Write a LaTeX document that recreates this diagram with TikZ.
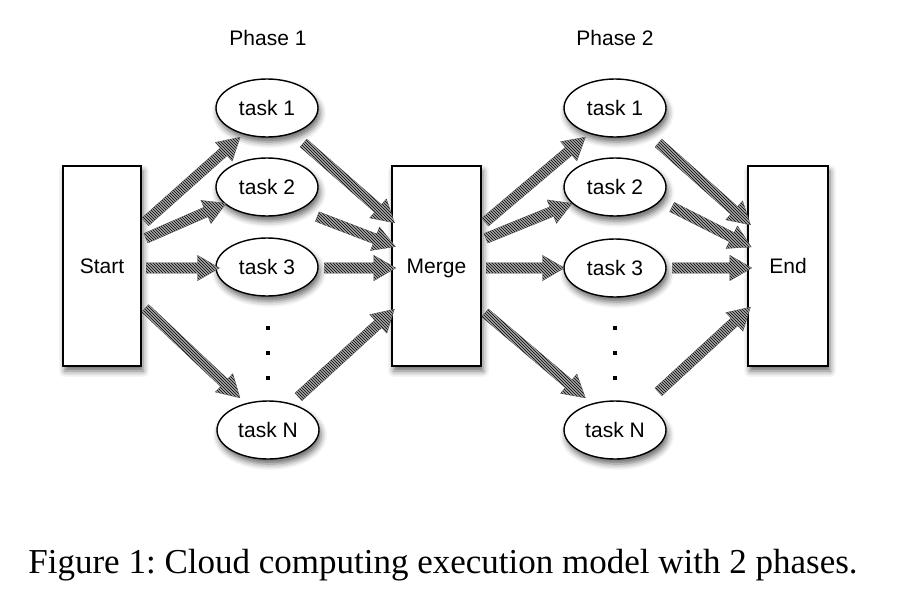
\documentclass[tikz,border=0pt]{standalone}
\usepackage{fontspec}
\setmainfont{Liberation Serif}
\newfontfamily\labelfont{Liberation Sans}
\usetikzlibrary{shapes.arrows,shapes.geometric,patterns,calc,shadows.blur}
\tikzset{
  lbl/.style={font=\labelfont\fontsize{21}{24}\selectfont,text height=15pt,text depth=0pt},
  shad/.style={blur shadow={shadow xshift=2pt,shadow yshift=-5pt,shadow blur radius=6pt,shadow opacity=60}},
  box/.style={lbl,draw=black,line width=1.4pt,fill=white,minimum width=78pt,minimum height=200pt,inner sep=0pt,shad},
  task/.style={lbl,ellipse,draw=black,line width=1.4pt,fill=white,minimum width=102pt,minimum height=58pt,inner sep=0pt,shad},
  dotmark/.style={fill=black,minimum size=3.6pt,inner sep=0pt},
  fat/.style={single arrow,inner sep=5pt,single arrow head extend=7.5pt,single arrow tip angle=60,
    preaction={fill=gray!70},pattern=north west lines,pattern color=black,draw=gray!60!black,line width=0.3pt}
}
\newcommand{\fatarrow}[2]{%
  \path let \p1=#1, \p2=#2, \n1={atan2(\y2-\y1,\x2-\x1)}, \n2={veclen(\x2-\x1,\y2-\y1)} in
    node[fat,minimum height=\n2,rotate=\n1] at ($(\p1)!0.5!(\p2)$) {};}
\begin{document}
\begin{tikzpicture}[x=1pt,y=-1pt]
\useasboundingbox (0,0) rectangle (900,611);
\node[lbl] (ph1) at (268,38) {Phase 1};
\node[lbl] (ph2) at (615,38) {Phase 2};
\node[box] (start) at (102,266) {Start};
\node[box,minimum width=89pt] (merge) at (436.5,266) {Merge};
\node[box,minimum width=80pt] (end) at (788,266) {End};
\node[task] (t11) at (267,108) {task 1};
\node[task] (t12) at (267,187) {task 2};
\node[task] (t13) at (267,267) {task 3};
\node[task] (t1N) at (268,430) {task N};
\node[task] (t21) at (615,108) {task 1};
\node[task] (t22) at (615,187) {task 2};
\node[task] (t23) at (615,268) {task 3};
\node[task] (t2N) at (615,430) {task N};
\node[dotmark] (d11) at (268,328) {};
\node[dotmark] (d12) at (268,353) {};
\node[dotmark] (d13) at (268,378) {};
\node[dotmark] (d21) at (615,328) {};
\node[dotmark] (d22) at (615,353) {};
\node[dotmark] (d23) at (615,378) {};
% phase 1 in
\fatarrow{($(start.east)+(0,-41)$)}{($(t11)+(-30,32)$)}
\fatarrow{($(start.east)+(0,-26)$)}{($(t12)+(-45,18)$)}
\fatarrow{($(start.east)+(0,2)$)}{($(t13)+(-52,1)$)}
\fatarrow{($(start.east)+(0,39)$)}{($(t1N)+(-31,-35)$)}
% phase 1 out
\fatarrow{($(t11)+(33,32)$)}{($(merge.west)+(0,-46)$)}
\fatarrow{($(t12)+(46,28)$)}{($(merge.west)+(0,-21)$)}
\fatarrow{($(t13)+(53,1)$)}{($(merge.west)+(0,2)$)}
\fatarrow{($(t1N)+(27,-30)$)}{($(merge.west)+(0,46)$)}
% phase 2 in
\fatarrow{($(merge.east)+(0,-41)$)}{($(t21)+(-33,32)$)}
\fatarrow{($(merge.east)+(0,-26)$)}{($(t22)+(-47,18)$)}
\fatarrow{($(merge.east)+(0,2)$)}{($(t23)+(-55,0)$)}
\fatarrow{($(merge.east)+(0,44)$)}{($(t2N)+(-33,-35)$)}
% phase 2 out
\fatarrow{($(t21)+(40,32)$)}{($(end.west)+(0,-44)$)}
\fatarrow{($(t22)+(53,18)$)}{($(end.west)+(0,-21)$)}
\fatarrow{($(t23)+(53,0)$)}{($(end.west)+(0,2)$)}
\fatarrow{($(t2N)+(40,-35)$)}{($(end.west)+(0,44)$)}
\node (cap) at (443,565) {\fontsize{35}{40}\selectfont\frenchspacing Figure 1: Cloud computing execution model with 2 phases.};
\end{tikzpicture}
\end{document}
